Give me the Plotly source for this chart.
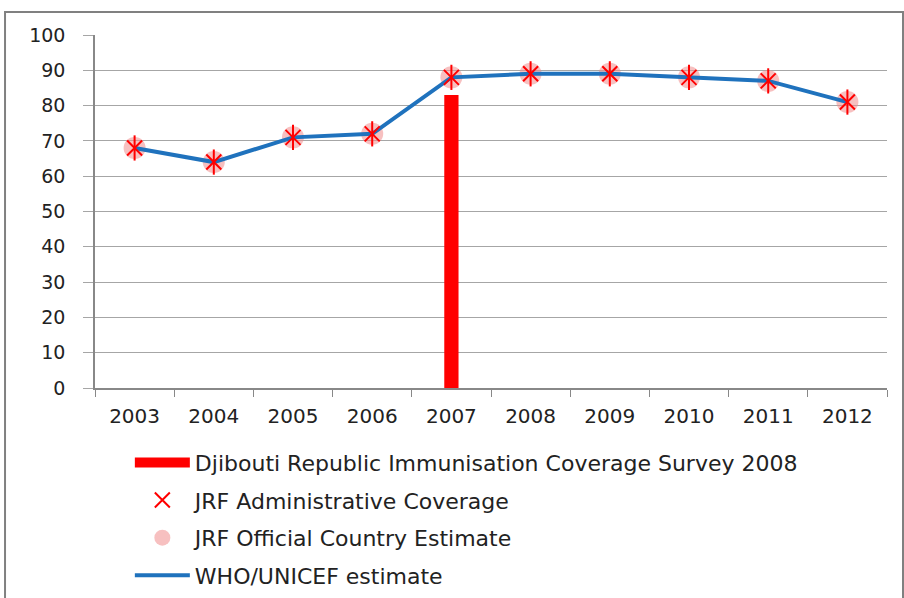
import plotly.graph_objects as go

years = ["2003", "2004", "2005", "2006", "2007", "2008", "2009", "2010", "2011", "2012"]
who_unicef = [68, 64, 71, 72, 88, 89, 89, 88, 87, 81]
jrf_admin = [68, 64, 71, 72, 88, 89, 89, 88, 87, 81]
jrf_official = [68, 64, 71, 72, 88, 89, 89, 88, 87, 81]
survey_years = ["2007"]
survey_values = [83]

FONT = "DejaVu Sans"
fig = go.Figure()

fig.add_trace(go.Bar(
    x=survey_years, y=survey_values, width=0.18,
    marker=dict(color="#ff0000", line=dict(width=0)),
    name="Djibouti Republic Immunisation Coverage Survey 2008",
    showlegend=False, legendgroup="a",
))
# legend entry for the bar, drawn as a thick red swatch
fig.add_trace(go.Scatter(
    x=[None], y=[None], mode="lines",
    line=dict(color="#ff0000", width=10),
    name="Djibouti Republic Immunisation Coverage Survey 2008",
    legendgroup="a", legendrank=1,
))
fig.add_trace(go.Scatter(
    x=years, y=jrf_official, mode="markers",
    marker=dict(symbol="circle", size=22, color="rgba(240,140,140,0.55)"),
    name="JRF Official Country Estimate", legendgroup="c", legendrank=3,
))
fig.add_trace(go.Scatter(
    x=years, y=who_unicef, mode="lines",
    line=dict(color="#1f72bd", width=4),
    name="WHO/UNICEF estimate", legendgroup="d", legendrank=4,
))
fig.add_trace(go.Scatter(
    x=years, y=jrf_admin, mode="markers",
    marker=dict(symbol="line-ns-open", size=18, color="#ff0000",
                line=dict(color="#ff0000", width=2)),
    showlegend=False, legendgroup="b", hoverinfo="skip",
))
fig.add_trace(go.Scatter(
    x=years, y=jrf_admin, mode="markers",
    marker=dict(symbol="x-thin-open", size=15, color="#ff0000",
                line=dict(color="#ff0000", width=2)),
    name="JRF Administrative Coverage", legendgroup="b", legendrank=2,
))

fig.update_layout(
    width=904, height=598,
    paper_bgcolor="white", plot_bgcolor="white",
    margin=dict(l=95, r=17, t=35, b=210, autoexpand=False),
    font=dict(family=FONT, size=17, color="#222222"),
    showlegend=True,
    legend=dict(
        orientation="v", x=0.044, xanchor="left", y=-0.152, yanchor="top",
        font=dict(family=FONT, size=22, color="#222222"),
        traceorder="grouped", tracegroupgap=6,
        bgcolor="rgba(0,0,0,0)", itemwidth=55,
    ),
    xaxis=dict(
        type="category", categoryorder="array", categoryarray=years,
        range=[-0.5, 9.5],
        showline=True, linecolor="#888888", linewidth=1.5,
        ticks="outside", tickson="boundaries", ticklen=7, tickcolor="#888888",
        showgrid=False, tickfont=dict(size=20), ticklabelstandoff=9,
    ),
    yaxis=dict(
        range=[0, 100], dtick=10,
        showline=True, linecolor="#888888", linewidth=1.5,
        ticks="outside", ticklen=10, tickcolor="#a6a6a6",
        showgrid=True, gridcolor="#a6a6a6", gridwidth=1.2,
        zeroline=False, tickfont=dict(size=19), ticklabelstandoff=14,
    ),
    shapes=[dict(
        type="rect", xref="paper", yref="paper",
        x0=-0.1136, x1=1.0202, y0=-0.6, y1=1.065,
        line=dict(color="#808080", width=2), fillcolor="rgba(0,0,0,0)",
    )],
)

fig.write_html("out.html", config={"displayModeBar": False},
               post_script="document.body.style.margin='0';")
